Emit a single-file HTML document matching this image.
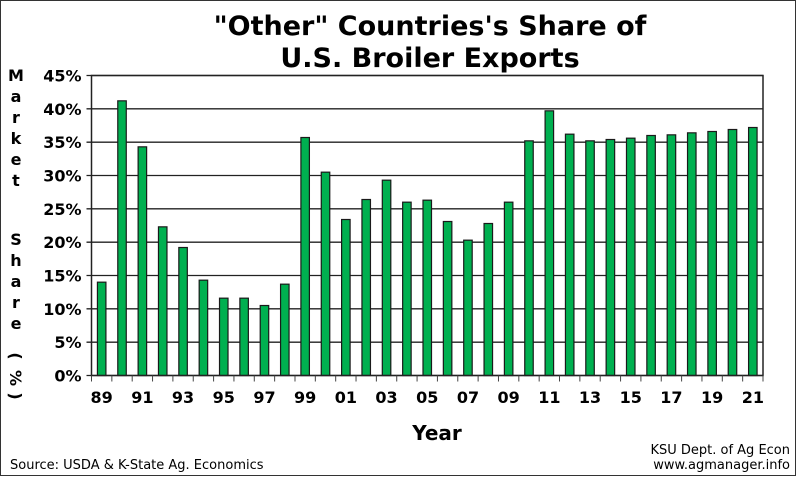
<!DOCTYPE html>
<html><head><meta charset="utf-8"><style>
body{margin:0;background:#fff;font-family:"DejaVu Sans","Liberation Sans",sans-serif}
</style></head><body>
<svg width="797" height="476" xmlns="http://www.w3.org/2000/svg">
<rect x="0.5" y="0.5" width="795" height="475" fill="#fff" stroke="#333"/>
<text x="430" y="35" text-anchor="middle" font-size="27" font-weight="bold">"Other" Countries's Share of</text>
<text x="430" y="67" text-anchor="middle" font-size="27" font-weight="bold">U.S. Broiler Exports</text>
<g id="grid"></g>
<g id="bars"></g>
<g id="axes"></g>
<g id="ytitle" font-size="16" font-weight="bold" text-anchor="middle"></g>
<text x="437" y="440" text-anchor="middle" font-size="20" font-weight="bold">Year</text>
<text x="10" y="469" font-size="13">Source:  USDA &amp; K-State Ag. Economics</text>
<text x="790" y="454" text-anchor="end" font-size="13">KSU Dept. of Ag Econ</text>
<text x="790" y="469" text-anchor="end" font-size="13">www.agmanager.info</text>
</svg>
<script>
const years=["89","90","91","92","93","94","95","96","97","98","99","00","01","02","03","04","05","06","07","08","09","10","11","12","13","14","15","16","17","18","19","20","21"];
const shares=[14,41.2,34.3,22.3,19.2,14.3,11.6,11.6,10.5,13.7,35.7,30.5,23.4,26.4,29.3,26,26.3,23.1,20.3,22.8,26,35.2,39.7,36.2,35.2,35.4,35.6,36,36.1,36.4,36.6,36.9,37.2];
const yTicks=[0,5,10,15,20,25,30,35,40,45];
const NS="http://www.w3.org/2000/svg";
const L=91.5,R=763,T=75.5,B=375.5,yMax=45;
const slot=(R-L)/years.length,bw=8.5;
const y=v=>B-(v/yMax)*(B-T);
const x=i=>L+slot*(i+0.5);
function mk(tag,attrs,parent){const e=document.createElementNS(NS,tag);for(const k in attrs)e.setAttribute(k,attrs[k]);parent.appendChild(e);return e;}
const grid=document.getElementById('grid'),bars=document.getElementById('bars'),axes=document.getElementById('axes'),yt=document.getElementById('ytitle');
yTicks.forEach(t=>{
 const l=mk('line',{x1:L-5,x2:R,y1:y(t),y2:y(t),stroke:'#222','stroke-width':1.3},grid);
 
 
 const tx=mk('text',{x:L-10,y:y(t)+6,'text-anchor':'end','font-size':16,'font-weight':'bold'},axes);
 tx.textContent=t+'%';
 
 
});
shares.forEach((v,i)=>{
 const r=mk('rect',{x:x(i)-bw/2,y:y(v),width:bw,height:B-y(v),fill:'#00b050',stroke:'#1a1a1a','stroke-width':1.2},bars);
 
 
});
mk('rect',{x:L,y:T,width:R-L,height:B-T,fill:'none',stroke:'#222','stroke-width':1.5},axes);
for(let i=0;i<=years.length;i++){mk('line',{x1:L+slot*i,x2:L+slot*i,y1:B,y2:B+6,stroke:'#444','stroke-width':1},axes);}
years.forEach((yr,i)=>{if(i%2==0){
 const tx=mk('text',{x:x(i),y:403,'text-anchor':'middle','font-size':16,'font-weight':'bold'},axes);
 tx.textContent=yr;
 
 
}});
const letters=[["M",81],["a",102],["r",123],["k",144],["e",165],["t",186],["S",245],["h",266],["a",287],["r",308],["e",329]];
letters.forEach(([c,yy])=>{const t=mk('text',{x:16,y:yy},yt);t.textContent=c;});
[["(",362],["%",384],[")",402]].forEach(([c,yy])=>{const t=mk('text',{x:16,y:yy,transform:'rotate(90 16 '+(yy-6)+')'},yt);t.textContent=c;});
</script>
</body></html>
